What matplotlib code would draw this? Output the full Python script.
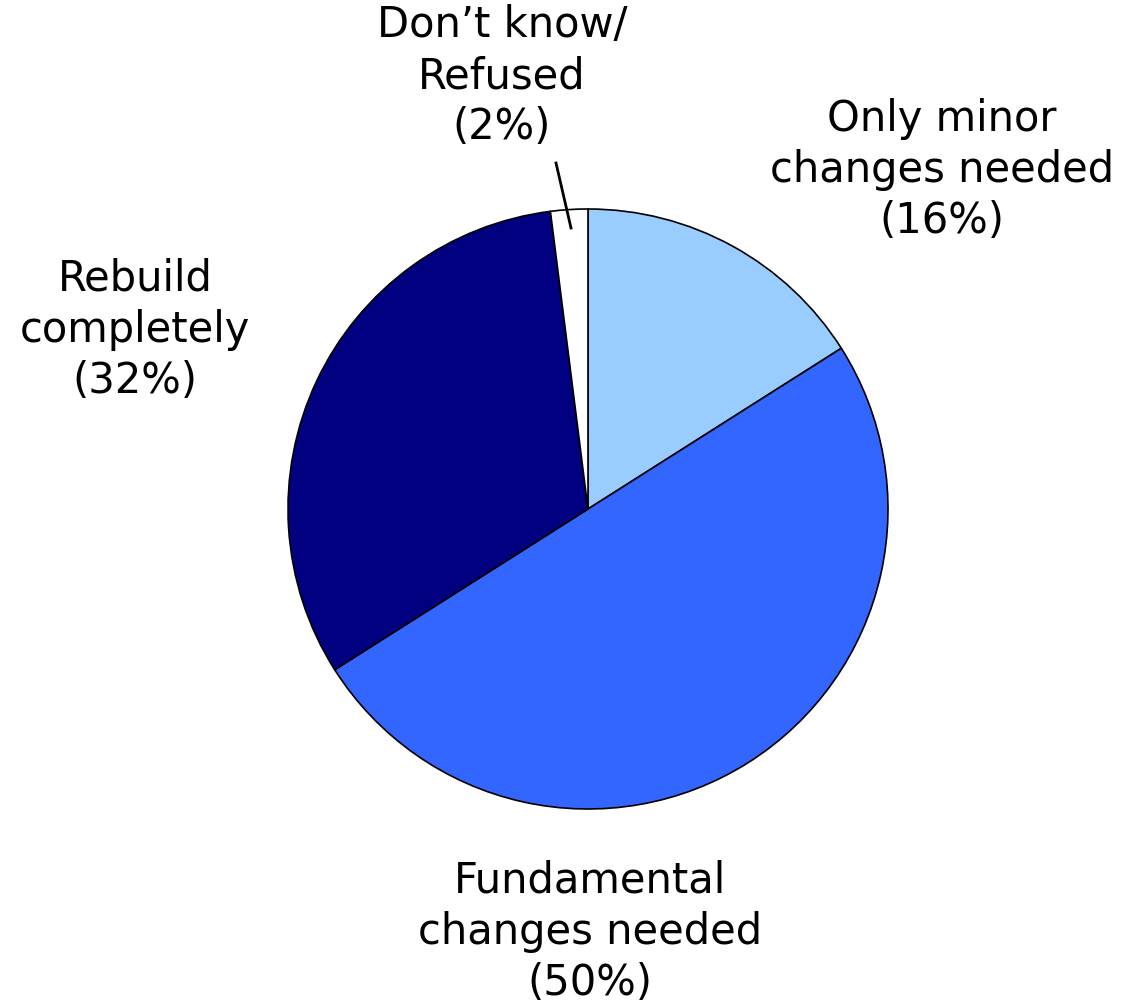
import matplotlib
matplotlib.use("Agg")
import matplotlib.pyplot as plt

# Data
labels = ["Only minor\nchanges needed", "Fundamental\nchanges needed",
          "Rebuild\ncompletely", "Don\u2019t know/\nRefused"]
values = [16, 50, 32, 2]
colors = ["#99CCFF", "#3366FF", "#000080", "#FFFFFF"]

W, H = 1131, 1005
fig = plt.figure(figsize=(W / 100, H / 100), dpi=100)
ax = fig.add_axes([0, 0, 1, 1])

cx, cy, r = 588, H - 509, 300
ax.pie(values, colors=colors, startangle=90, counterclock=False,
       center=(cx, cy), radius=r, frame=True,
       wedgeprops=dict(edgecolor="black", linewidth=1.2))

ax.set_xlim(0, W)
ax.set_ylim(0, H)
ax.set_aspect("equal")
ax.axis("off")

# Label positions (pixel coords, top-left origin)
label_pos = [(942, 170), (590, 932), (135, 330), (502, 76)]
for lab, v, (x, y) in zip(labels, values, label_pos):
    ax.text(x, H - y, f"{lab}\n({v}%)", ha="center", va="center",
            fontsize=30, family="DejaVu Sans", linespacing=1.28)

# Leader line for the small slice
ax.plot([556, 571], [H - 163, H - 228], color="black", linewidth=2)

fig.savefig("out.png", dpi=100)
